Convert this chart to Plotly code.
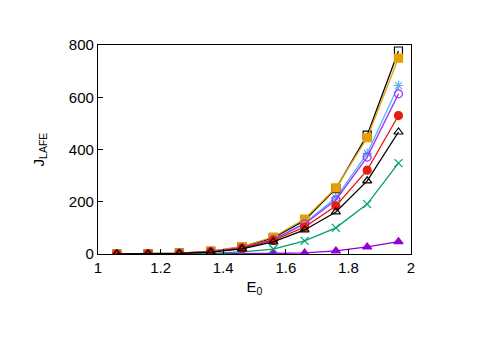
import plotly.graph_objects as go

E0 = [1.06, 1.16, 1.26, 1.36, 1.46, 1.56, 1.66, 1.76, 1.86, 1.96]

J_tri_purple = [0, 0, 0, 0.5, 1, 2, 4, 12, 27, 47]
J_cross_green = [0, 0, 0.5, 2, 8, 19, 50, 100, 191, 348]
J_star_blue = [0, 0.5, 2, 8, 24, 55, 118, 215, 385, 645]
J_sq_orange = [0, 1, 3, 11, 28, 65, 134, 253, 445, 750]
J_circ_red = [0, 0.5, 2, 8, 22, 52, 103, 184, 321, 530]
J_tri_black = [0, 0.5, 2, 7, 20, 46, 92, 161, 280, 467]
J_sq_black = [0, 1, 3, 10, 27, 62, 128, 250, 455, 777]
J_circ_purple = [0, 0.5, 2, 9, 24, 55, 115, 207, 371, 613]

series = [
    (J_tri_purple, '#9400d3', 'triangle-up'),
    (J_cross_green, '#009e73', 'x-thin-open'),
    (J_star_blue, '#56b4e9', 'asterisk-open'),
    (J_sq_black, '#000000', 'square-open'),
    (J_sq_orange, '#e69f00', 'square'),
    (J_circ_purple, '#9933ff', 'circle-open'),
    (J_circ_red, '#e51e10', 'circle'),
    (J_tri_black, '#000000', 'triangle-up-open'),
]

fig = go.Figure()
for ys, col, sym in series:
    fig.add_trace(go.Scatter(x=E0, y=ys, mode='lines+markers',
                             line=dict(color=col, width=1.3),
                             marker=dict(symbol=sym, size=8, color=col,
                                         line=dict(color=col, width=1.2)),
                             showlegend=False))

axis_style = dict(showline=True, linecolor='black', linewidth=1.2, mirror=True,
                  ticks='inside', ticklen=5, tickcolor='black', showgrid=False,
                  zeroline=False, tickfont=dict(size=15, color='black'))
fig.update_xaxes(range=[1, 2],
                 tickvals=[1, 1.2, 1.4, 1.6, 1.8, 2], ticktext=['1', '1.2', '1.4', '1.6', '1.8', '2'],
                 title=dict(text='E<sub>0</sub>', font=dict(size=15, color='black'), standoff=6),
                 **axis_style)
fig.update_yaxes(range=[0, 800], dtick=200,
                 title=dict(text='J<sub>LAFE</sub>', font=dict(size=15, color='black'), standoff=20),
                 **axis_style)
fig.update_layout(width=478, height=338, plot_bgcolor='white', paper_bgcolor='white',
                  font=dict(family='Liberation Sans, Arial, sans-serif'),
                  margin=dict(l=90, r=75, t=37, b=92))
fig.write_html("out.html")
